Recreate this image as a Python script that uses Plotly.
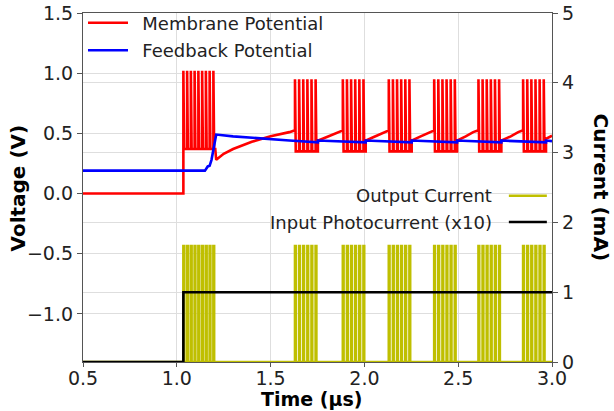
import plotly.graph_objects as go

# ---------------- data ----------------
# Spike times (µs) of each burst
burst_spikes = [
    [1.035, 1.055, 1.075, 1.095, 1.115, 1.135, 1.155, 1.175, 1.195],
    [1.630, 1.652, 1.674, 1.696, 1.718, 1.740],
    [1.885, 1.907, 1.929, 1.951, 1.973, 1.995],
    [2.130, 2.152, 2.174, 2.196, 2.218, 2.240],
    [2.372, 2.394, 2.416, 2.438, 2.460, 2.482],
    [2.608, 2.630, 2.652, 2.674, 2.696, 2.718],
    [2.846, 2.868, 2.890, 2.912, 2.934, 2.956],
]
burst_end = [1.205, 1.752, 2.007, 2.252, 2.494, 2.730, 2.968]
mem_peak = [1.02, 0.95, 0.95, 0.95, 0.95, 0.95, 0.95]      # V
mem_base = [0.37, 0.35, 0.35, 0.35, 0.35, 0.35, 0.35]      # V

# Membrane potential before first burst
mem_rest_t = [0.5, 1.035]
mem_rest_v = [0.0, 0.0]
# Recovery of membrane potential after each burst (t, V)
mem_recovery_t = [
    [1.21, 1.25, 1.30, 1.40, 1.50, 1.60, 1.630],
    [1.752, 1.80, 1.85, 1.885],
    [2.007, 2.05, 2.10, 2.130],
    [2.252, 2.30, 2.35, 2.372],
    [2.494, 2.54, 2.58, 2.608],
    [2.730, 2.78, 2.82, 2.846],
    [2.968, 3.0],
]
mem_recovery_v = [
    [0.28, 0.33, 0.37, 0.43, 0.475, 0.51, 0.525],
    [0.44, 0.47, 0.505, 0.525],
    [0.44, 0.47, 0.505, 0.525],
    [0.44, 0.475, 0.51, 0.525],
    [0.44, 0.475, 0.51, 0.525],
    [0.44, 0.475, 0.51, 0.525],
    [0.455, 0.48],
]

# Feedback potential (V)
fb_t = [0.5, 1.15, 1.165, 1.175, 1.185, 1.21, 1.30, 1.45, 1.60,
        1.752, 1.752, 2.007, 2.007, 2.252, 2.252, 2.494, 2.494,
        2.730, 2.730, 2.968, 2.968, 3.0]
fb_v = [0.19, 0.19, 0.225, 0.23, 0.28, 0.49, 0.475, 0.455, 0.44,
        0.425, 0.44, 0.425, 0.44, 0.425, 0.44, 0.425, 0.44,
        0.425, 0.44, 0.425, 0.44, 0.435]

# Output current spike height (mA)
out_peak = 1.66
# Input photocurrent (x10), mA
in_t = [0.5, 1.035, 1.035, 3.0]
in_i = [0.0, 0.0, 1.0, 1.0]

x_ticks = [0.5, 1.0, 1.5, 2.0, 2.5, 3.0]
v_ticks = [-1.0, -0.5, 0.0, 0.5, 1.0, 1.5]
i_ticks = [0, 1, 2, 3, 4, 5]

# ---------------- build waveforms ----------------
SPIKE_W = 0.004
mem_t, mem_v = list(mem_rest_t), list(mem_rest_v)
out_t, out_i = [0.5], [0.0]
for k, spikes in enumerate(burst_spikes):
    for s in spikes:
        mem_t += [s, s, s + SPIKE_W]
        mem_v += [mem_v[-1], mem_peak[k], mem_base[k]]
        out_t += [s, s, s + SPIKE_W, s + SPIKE_W]
        out_i += [0.0, out_peak, out_peak, 0.0]
    mem_t += [burst_end[k]]
    mem_v += [mem_base[k]]
    mem_t += mem_recovery_t[k]
    mem_v += mem_recovery_v[k]
out_t += [3.0]
out_i += [0.0]

RED, BLUE, YEL, BLK = "#ff0000", "#0000ff", "#bfbf00", "#000000"
FONT = "DejaVu Sans"
AX = "#555555"
GRID = "#dedede"
TXT = "#222222"
LW = 2.6
NB = "\u00a0\u2009"

fig = go.Figure()
fig.add_trace(go.Scatter(x=mem_t, y=mem_v, mode="lines", name=NB + "Membrane Potential",
                         line=dict(color=RED, width=LW), legendgroup="a"))
fig.add_trace(go.Scatter(x=fb_t, y=fb_v, mode="lines", name=NB + "Feedback Potential",
                         line=dict(color=BLUE, width=LW), legendgroup="b"))
fig.add_trace(go.Scatter(x=out_t, y=out_i, mode="lines", name="Output Current",
                         line=dict(color=YEL, width=LW), yaxis="y2", showlegend=False))
fig.add_trace(go.Scatter(x=in_t, y=in_i, mode="lines", name="Input Photocurrent (x10)",
                         line=dict(color=BLK, width=LW), yaxis="y2", showlegend=False))

# second legend (text before line, as in the reference)
leg2 = [("Output Current", YEL, 0.4765), ("Input Photocurrent (x10)", BLK, 0.401)]
for txt, col, yy in leg2:
    fig.add_annotation(xref="paper", yref="paper", x=0.876, y=yy, text=txt,
                       showarrow=False, xanchor="right", yanchor="middle",
                       font=dict(family=FONT, size=18, color=TXT))
    fig.add_shape(type="line", xref="paper", yref="paper", x0=0.908, x1=0.989,
                  y0=yy, y1=yy, line=dict(color=col, width=LW))

# axis titles
fig.add_annotation(xref="paper", yref="paper", x=0.488, y=-0.107, text="<b>Time (µs)</b>",
                   showarrow=False, xanchor="center", yanchor="middle", borderpad=0,
                   font=dict(family=FONT, size=19, color="#000"))
fig.add_annotation(xref="paper", yref="paper", x=-0.1386, y=0.5, text="<b>Voltage (V)</b>",
                   showarrow=False, xanchor="center", yanchor="middle", textangle=-90,
                   font=dict(family=FONT, size=20, color="#000"))
fig.add_annotation(xref="paper", yref="paper", x=1.1045, y=0.5, text="<b>Current (mA)</b>",
                   showarrow=False, xanchor="center", yanchor="middle", textangle=90,
                   font=dict(family=FONT, size=20, color="#000"))

fig.update_layout(
    width=614, height=411,
    margin=dict(l=83, r=62, t=13, b=49, autoexpand=False),
    paper_bgcolor="white", plot_bgcolor="white",
    font=dict(family=FONT, size=19, color=TXT),
    showlegend=True,
    legend=dict(x=0.0, y=1.024, xanchor="left", yanchor="top", traceorder="grouped",
                bgcolor="rgba(0,0,0,0)", font=dict(family=FONT, size=18, color=TXT),
                itemwidth=40, tracegroupgap=1),
    xaxis=dict(range=[0.5, 3.0], tickvals=x_ticks, tickformat=".1f",
               showgrid=True, gridcolor=GRID, gridwidth=1, zeroline=False,
               showline=True, linecolor=AX, linewidth=1.2, mirror=True,
               ticks="outside", ticklen=4, tickcolor=AX, automargin=False,
               ticklabelstandoff=-5),
    yaxis=dict(range=[-1.40, 1.5], tickvals=v_ticks, tickformat=".1f",
               showgrid=True, gridcolor=GRID, gridwidth=1, zeroline=False,
               showline=True, linecolor=AX, linewidth=1.2, automargin=False,
               ticks="outside", ticklen=5, tickcolor=AX),
    yaxis2=dict(range=[0, 5], tickvals=i_ticks, overlaying="y", side="right",
                showgrid=True, gridcolor=GRID, gridwidth=1, zeroline=False,
                showline=True, linecolor=AX, linewidth=1.2, automargin=False,
                ticks="outside", ticklen=5, tickcolor=AX),
)

fig.write_html("out.html")
